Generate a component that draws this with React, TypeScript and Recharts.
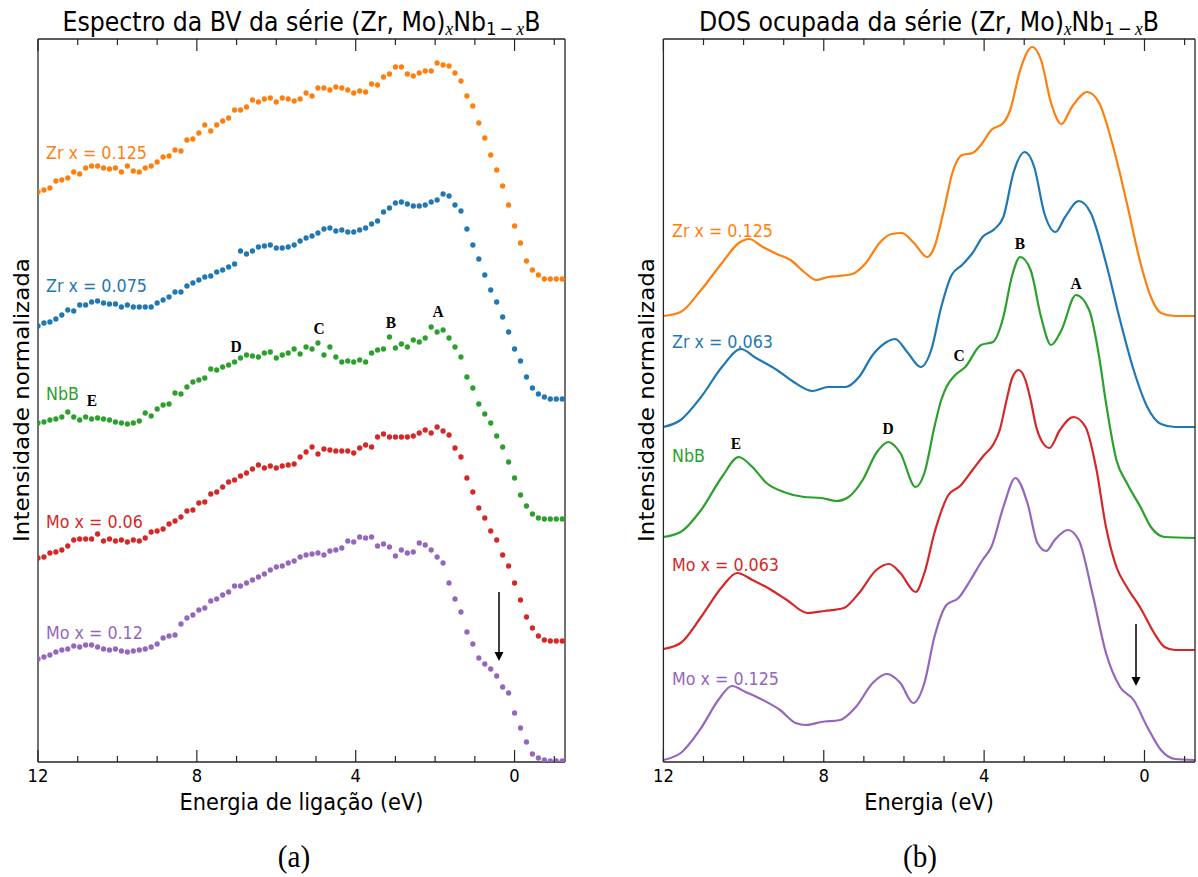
import React from "react";
import { ComposedChart, Scatter, Line, XAxis, YAxis } from "recharts";

// ---- data: left panel (valence band spectra, offset per series) ----
const BV_ENERGY = [
  12, 11.85, 11.7, 11.55, 11.4, 11.25, 11.1, 10.95, 10.8, 10.65,
  10.5, 10.35, 10.2, 10.05, 9.9, 9.75, 9.6, 9.45, 9.3, 9.15,
  9, 8.85, 8.7, 8.55, 8.4, 8.25, 8.1, 7.95, 7.8, 7.65,
  7.5, 7.35, 7.2, 7.05, 6.9, 6.75, 6.6, 6.45, 6.3, 6.15,
  6, 5.85, 5.7, 5.55, 5.4, 5.25, 5.1, 4.95, 4.8, 4.65,
  4.5, 4.35, 4.2, 4.05, 3.9, 3.75, 3.6, 3.45, 3.3, 3.15,
  3, 2.85, 2.7, 2.55, 2.4, 2.25, 2.1, 1.95, 1.8, 1.65,
  1.5, 1.35, 1.2, 1.05, 0.9, 0.75, 0.6, 0.45, 0.3, 0.15,
  0, -0.15, -0.3, -0.45, -0.6, -0.75, -0.9, -1.05, -1.2,
];

const BV_ZR125 = [
  570, 572, 574, 581, 582, 584, 590, 588, 594, 596,
  596, 594, 593, 594, 590, 596, 591, 590, 594, 596,
  600, 605, 606, 612, 611, 622, 623, 629, 637, 631,
  637, 641, 644, 652, 652, 655, 662, 660, 663, 664,
  660, 664, 663, 661, 663, 669, 666, 674, 674, 672,
  675, 674, 672, 669, 671, 670, 678, 677, 685, 688,
  695, 695, 688, 686, 689, 691, 691, 699, 697, 696,
  689, 681, 666, 656, 639, 624, 607, 592, 576, 557,
  536, 519, 501, 492, 487, 483, 483, 483, 483,
];

const BV_ZR075 = [
  436, 439, 440, 443, 447, 452, 451, 457, 457, 460,
  461, 459, 458, 458, 455, 457, 455, 455, 455, 455,
  459, 462, 465, 470, 470, 476, 479, 482, 485, 486,
  490, 492, 495, 498, 511, 508, 511, 515, 516, 517,
  514, 514, 515, 517, 521, 524, 526, 529, 533, 534,
  531, 532, 530, 530, 532, 534, 538, 541, 550, 554,
  559, 560, 558, 556, 556, 557, 560, 562, 568, 566,
  557, 551, 533, 517, 503, 487, 472, 460, 445, 430,
  413, 401, 385, 374, 368, 365, 363, 363, 363,
];

const BV_NBB = [
  339, 340, 342, 343, 345, 350, 345, 342, 345, 343,
  344, 343, 342, 340, 339, 338, 339, 341, 349, 346,
  353, 357, 358, 369, 368, 375, 380, 382, 384, 393,
  392, 395, 397, 400, 404, 407, 406, 405, 409, 410,
  404, 407, 409, 413, 408, 415, 413, 419, 407, 415,
  405, 400, 401, 400, 402, 400, 409, 412, 413, 425,
  414, 418, 415, 422, 420, 424, 435, 430, 432, 424,
  415, 405, 385, 374, 358, 348, 339, 326, 315, 300,
  284, 267, 256, 248, 244, 243, 243, 243, 243,
];

const BV_MO06 = [
  204, 205, 209, 210, 212, 216, 222, 223, 223, 223,
  228, 221, 223, 221, 222, 220, 222, 221, 224, 230,
  231, 233, 238, 241, 245, 251, 252, 259, 260, 268,
  270, 275, 280, 282, 286, 289, 293, 297, 294, 296,
  294, 296, 297, 298, 305, 310, 315, 308, 313, 312,
  311, 311, 311, 309, 314, 317, 315, 325, 328, 325,
  325, 325, 325, 326, 329, 332, 329, 335, 331, 327,
  314, 305, 284, 270, 254, 244, 231, 222, 207, 196,
  179, 162, 145, 134, 126, 122, 121, 121, 121,
];

const BV_MO12 = [
  103, 105, 107, 110, 112, 113, 116, 115, 117, 117,
  115, 113, 112, 113, 111, 110, 111, 112, 113, 115,
  118, 124, 126, 127, 138, 144, 147, 152, 154, 161,
  163, 167, 170, 176, 176, 179, 182, 185, 188, 192,
  195, 196, 199, 201, 205, 207, 208, 209, 207, 211,
  212, 214, 221, 220, 225, 224, 225, 216, 218, 215,
  206, 212, 209, 210, 219, 217, 212, 205, 199, 179,
  163, 150, 130, 118, 104, 98, 93, 86, 75, 69,
  49, 34, 20, 8, 4, 2, 1, 1, 1,
];

// ---- data: right panel (occupied DOS, offset per series) ----
const DOS_ZR125_E = [12, 11.57, 11.06, 10.54, 10.12, 9.86, 9.52, 9.17, 8.83, 8.49, 8.19, 7.89, 7.63, 7.29, 6.95, 6.61, 6.31, 6.05, 5.75, 5.42, 5.24, 5.02, 4.77, 4.55, 4.29, 4.08, 3.82, 3.52, 3.35, 3.1, 2.8, 2.58, 2.33, 2.07, 1.81, 1.43, 1.13, 0.78, 0.44, 0.1, -0.16, -0.41, -0.76, -1.26];
const DOS_ZR125 = [446, 450, 472, 499, 519, 523, 515, 508, 502, 490, 482, 485, 486, 488, 499, 519, 528, 529, 519, 505, 515, 549, 592, 607, 609, 617, 632, 639, 652, 692, 715, 702, 659, 638, 655, 670, 659, 615, 559, 499, 465, 449, 446, 446];

const DOS_ZR063_E = [12, 11.57, 11.06, 10.54, 10.07, 9.69, 9.17, 8.75, 8.28, 7.89, 7.46, 7.12, 6.78, 6.43, 6.22, 5.92, 5.58, 5.32, 5.07, 4.81, 4.55, 4.29, 4.04, 3.74, 3.52, 3.27, 2.99, 2.75, 2.5, 2.22, 1.98, 1.64, 1.34, 0.96, 0.61, 0.27, -0.07, -0.41, -0.76, -1.26];
const DOS_ZR063 = [335, 342, 365, 395, 413, 404, 392, 380, 371, 375, 375, 385, 407, 420, 423, 410, 395, 412, 455, 487, 497, 509, 525, 533, 545, 589, 610, 595, 549, 530, 545, 561, 549, 499, 442, 392, 355, 338, 335, 335];

const DOS_NBB_E = [12, 11.57, 11.06, 10.54, 10.12, 9.78, 9.43, 9, 8.49, 8.06, 7.68, 7.38, 7.03, 6.69, 6.39, 6.09, 5.71, 5.49, 5.24, 5.07, 4.94, 4.72, 4.47, 4.08, 3.78, 3.52, 3.31, 3.1, 2.84, 2.58, 2.33, 2.07, 1.71, 1.38, 1.13, 0.96, 0.7, 0.44, 0.1, -0.16, -0.5, -1.26];
const DOS_NBB = [225, 230, 252, 285, 305, 295, 279, 270, 265, 264, 261, 265, 282, 309, 320, 309, 275, 289, 335, 362, 375, 387, 395, 417, 420, 445, 485, 505, 492, 445, 417, 432, 467, 452, 405, 359, 302, 279, 255, 235, 225, 224];

const DOS_MO063_E = [12, 11.57, 11.06, 10.54, 10.16, 9.78, 9.35, 8.92, 8.4, 7.98, 7.5, 7.12, 6.69, 6.37, 6.09, 5.71, 5.49, 5.24, 4.89, 4.6, 4.29, 4, 3.78, 3.61, 3.44, 3.3, 3.14, 2.97, 2.84, 2.7, 2.55, 2.37, 2.11, 1.77, 1.47, 1.21, 0.96, 0.7, 0.44, 0.1, -0.24, -0.5, -0.76, -1.26];
const DOS_MO063 = [113, 119, 145, 175, 189, 182, 173, 162, 149, 151, 154, 169, 192, 198, 189, 170, 189, 229, 267, 276, 292, 307, 317, 332, 362, 384, 392, 382, 362, 335, 320, 314, 332, 345, 335, 295, 235, 195, 175, 154, 129, 115, 112, 112];

const DOS_MO125_E = [12, 11.57, 11.06, 10.63, 10.29, 9.95, 9.52, 9.09, 8.7, 8.45, 8.06, 7.59, 7.2, 6.78, 6.43, 6.09, 5.77, 5.49, 5.24, 4.94, 4.64, 4.34, 4.04, 3.82, 3.52, 3.22, 2.92, 2.67, 2.45, 2.24, 1.91, 1.64, 1.3, 0.96, 0.61, 0.27, -0.07, -0.41, -0.76, -1.26];
const DOS_MO125 = [2, 9, 34, 62, 76, 70, 62, 52, 39, 37, 40, 42, 55, 79, 88, 79, 59, 79, 125, 157, 164, 182, 202, 215, 255, 284, 259, 219, 211, 222, 232, 222, 169, 109, 75, 62, 35, 12, 3, 2];

const X_TICKS = [12, 11, 10, 9, 8, 7, 6, 5, 4, 3, 2, 1, 0, -1];
const MAJOR_TICKS = [12, 8, 4, 0];
const Y_DOMAIN = [0, 723];

const SANS = "'DejaVu Sans', sans-serif";
const SERIF = "'Liberation Serif', serif";
const SQ = 0.91; // the original figure is slightly squeezed horizontally
const AXIS_COLOR = "#262626";

const ORANGE = "#ff7f0e";
const BLUE = "#1f77b4";
const GREEN = "#2ca02c";
const RED = "#d62728";
const PURPLE = "#9467bd";

const toPoints = (es: number[], vs: number[]) => es.map((e, i) => ({ e, v: vs[i] }));

const BV_SERIES = [
  { id: "zr125", color: ORANGE, values: BV_ZR125 },
  { id: "zr075", color: BLUE, values: BV_ZR075 },
  { id: "nbb", color: GREEN, values: BV_NBB },
  { id: "mo06", color: RED, values: BV_MO06 },
  { id: "mo12", color: PURPLE, values: BV_MO12 },
];

const DOS_SERIES = [
  { id: "zr125", color: ORANGE, energy: DOS_ZR125_E, values: DOS_ZR125 },
  { id: "zr063", color: BLUE, energy: DOS_ZR063_E, values: DOS_ZR063 },
  { id: "nbb", color: GREEN, energy: DOS_NBB_E, values: DOS_NBB },
  { id: "mo063", color: RED, energy: DOS_MO063_E, values: DOS_MO063 },
  { id: "mo125", color: PURPLE, energy: DOS_MO125_E, values: DOS_MO125 },
];

function SqText({ x, y, size, anchor = "start", family = SANS, fill = "#000", weight, rotate, children }: any) {
  const tf = `translate(${x},${y}) scale(${SQ},1)${rotate ? ` rotate(${rotate})` : ""}`;
  return (
    <text transform={tf} fontSize={size} fontFamily={family} textAnchor={anchor} fill={fill} fontWeight={weight}>
      {children}
    </text>
  );
}

function BottomTick(props: any) {
  const { x, y, payload } = props;
  const major = MAJOR_TICKS.includes(payload.value);
  return (
    <g>
      <line x1={x} x2={x} y1={y} y2={y - (major ? 12 : 6)} stroke={AXIS_COLOR} strokeWidth={1.2} />
      {major && (
        <SqText x={x} y={y + 20} size={18} anchor="middle">
          {payload.value}
        </SqText>
      )}
    </g>
  );
}

function TopTick(props: any) {
  const { x, y, payload } = props;
  const major = MAJOR_TICKS.includes(payload.value);
  return <line x1={x} x2={x} y1={y} y2={y + (major ? 12 : 6)} stroke={AXIS_COLOR} strokeWidth={1.2} />;
}

const axisLine = { stroke: AXIS_COLOR, strokeWidth: 1.3 };

function Panel({ width, margin, domain, rightWidth, children }: any) {
  return (
    <ComposedChart width={width} height={877} margin={margin}>
      <XAxis
        xAxisId="b"
        type="number"
        dataKey="e"
        domain={domain}
        reversed
        allowDataOverflow
        ticks={X_TICKS}
        interval={0}
        tickSize={0}
        tickMargin={0}
        tickLine={false}
        axisLine={axisLine}
        tick={(p: any) => <BottomTick {...p} />}
        height={30}
      />
      <XAxis
        xAxisId="t"
        orientation="top"
        type="number"
        dataKey="e"
        domain={domain}
        reversed
        allowDataOverflow
        ticks={X_TICKS}
        interval={0}
        tickSize={0}
        tickMargin={0}
        tickLine={false}
        axisLine={axisLine}
        tick={(p: any) => <TopTick {...p} />}
        height={20}
      />
      <YAxis yAxisId="l" type="number" dataKey="v" domain={Y_DOMAIN} allowDataOverflow tick={false} tickLine={false} axisLine={axisLine} width={10} />
      <YAxis yAxisId="r" orientation="right" type="number" dataKey="v" domain={Y_DOMAIN} allowDataOverflow tick={false} tickLine={false} axisLine={axisLine} width={rightWidth} />
      {children}
    </ComposedChart>
  );
}

function Arrow({ x, y1, y2 }: { x: number; y1: number; y2: number }) {
  return (
    <g>
      <line x1={x} x2={x} y1={y1} y2={y2 - 6} stroke="#000" strokeWidth={1.5} />
      <polygon points={`${x},${y2} ${x - 4.5},${y2 - 9} ${x + 4.5},${y2 - 9}`} fill="#000" />
    </g>
  );
}

function Title({ x, children }: any) {
  return (
    <SqText x={x} y={31} size={26} anchor="middle">
      {children}
      <tspan dy={4} fontSize={19} fontFamily={SERIF} fontStyle="italic">x</tspan>
      <tspan dy={-4}>Nb</tspan>
      <tspan dy={4} fontSize={18}>1{"\u2009\u2212\u2009"}</tspan>
      <tspan fontSize={19} fontFamily={SERIF} fontStyle="italic">x</tspan>
      <tspan dy={-4}>B</tspan>
    </SqText>
  );
}

export default function App() {
  return (
    <div style={{ position: "absolute", left: 0, top: 0, width: 1198, height: 877, background: "#fff" }}>
      <div style={{ position: "absolute", left: 0, top: 0 }}>
        <Panel width={600} margin={{ top: 19, right: 25, bottom: 85, left: 28 }} domain={[-1.27, 12]} rightWidth={10}>
          {BV_SERIES.map((s) => (
            <Scatter
              key={s.id}
              xAxisId="b"
              yAxisId="l"
              dataKey="v"
              data={toPoints(BV_ENERGY, s.values)}
              isAnimationActive={false}
              shape={(p: any) => <circle cx={p.cx} cy={p.cy} r={2.65} fill={s.color} />}
            />
          ))}
        </Panel>
      </div>
      <div style={{ position: "absolute", left: 600, top: 0 }}>
        <Panel width={598} margin={{ top: 19, right: 1, bottom: 85, left: 53.4 }} domain={[-1.26, 12]} rightWidth={2}>
          {DOS_SERIES.map((s) => (
            <Line
              key={s.id}
              xAxisId="b"
              yAxisId="l"
              dataKey="v"
              data={toPoints(s.energy, s.values)}
              type="monotone"
              stroke={s.color}
              strokeWidth={2.2}
              dot={false}
              activeDot={false}
              isAnimationActive={false}
            />
          ))}
        </Panel>
      </div>
      <svg width={1198} height={877} style={{ position: "absolute", left: 0, top: 0, pointerEvents: "none" }}>
        <Title x={301.5}>Espectro da BV da série (Zr, Mo)</Title>
        <Title x={929}>DOS ocupada da série (Zr, Mo)</Title>

        <SqText x={301.5} y={810} size={23} anchor="middle">Energia de ligação (eV)</SqText>
        <SqText x={929} y={810} size={23} anchor="middle">Energia (eV)</SqText>
        <SqText x={29} y={400} size={23} anchor="middle" rotate={-90}>Intensidade normalizada</SqText>
        <SqText x={654} y={400} size={23} anchor="middle" rotate={-90}>Intensidade normalizada</SqText>

        <SqText x={294} y={867} size={32} anchor="middle" family={SERIF}>(a)</SqText>
        <SqText x={920} y={867} size={32} anchor="middle" family={SERIF}>(b)</SqText>

        <SqText x={46} y={159} size={17.5} fill={ORANGE}>Zr x = 0.125</SqText>
        <SqText x={46} y={292} size={17.5} fill={BLUE}>Zr x = 0.075</SqText>
        <SqText x={46} y={400} size={17.5} fill={GREEN}>NbB</SqText>
        <SqText x={46} y={528} size={17.5} fill={RED}>Mo x = 0.06</SqText>
        <SqText x={46} y={639} size={17.5} fill={PURPLE}>Mo x = 0.12</SqText>

        <SqText x={672} y={237} size={17.5} fill={ORANGE}>Zr x = 0.125</SqText>
        <SqText x={672} y={348} size={17.5} fill={BLUE}>Zr x = 0.063</SqText>
        <SqText x={672} y={462} size={17.5} fill={GREEN}>NbB</SqText>
        <SqText x={672} y={571} size={17.5} fill={RED}>Mo x = 0.063</SqText>
        <SqText x={672} y={685} size={17.5} fill={PURPLE}>Mo x = 0.125</SqText>

        <SqText x={92} y={406} size={17} anchor="middle" family={SERIF} weight="bold">E</SqText>
        <SqText x={236} y={352} size={17} anchor="middle" family={SERIF} weight="bold">D</SqText>
        <SqText x={319} y={334} size={17} anchor="middle" family={SERIF} weight="bold">C</SqText>
        <SqText x={391} y={328} size={17} anchor="middle" family={SERIF} weight="bold">B</SqText>
        <SqText x={438} y={317} size={17} anchor="middle" family={SERIF} weight="bold">A</SqText>

        <SqText x={1020} y={249} size={17} anchor="middle" family={SERIF} weight="bold">B</SqText>
        <SqText x={1076} y={289} size={17} anchor="middle" family={SERIF} weight="bold">A</SqText>
        <SqText x={959} y={361} size={17} anchor="middle" family={SERIF} weight="bold">C</SqText>
        <SqText x={888} y={434} size={17} anchor="middle" family={SERIF} weight="bold">D</SqText>
        <SqText x={736} y={449} size={17} anchor="middle" family={SERIF} weight="bold">E</SqText>

        <Arrow x={499} y1={592} y2={661} />
        <Arrow x={1136} y1={624} y2={686} />
      </svg>
    </div>
  );
}
